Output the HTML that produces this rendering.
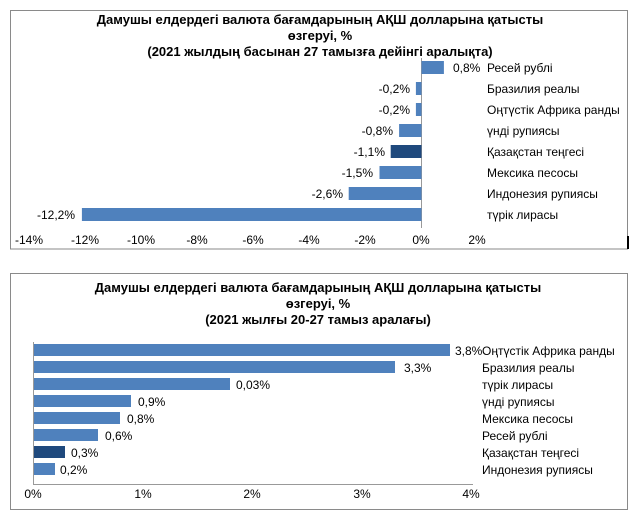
<!DOCTYPE html>
<html><head><meta charset="utf-8"><style>
html,body{margin:0;padding:0;background:#fff;}
svg{display:block;}
text{font-family:"Liberation Sans Narrow","Liberation Sans","DejaVu Sans",sans-serif;fill:#000;}
.t{font-weight:bold;font-size:13px;}
.l{font-size:12px;}
</style></head><body>
<svg width="640" height="518" viewBox="0 0 640 518" xmlns="http://www.w3.org/2000/svg">
<!-- Chart 1 -->
<rect x="10.5" y="10.5" width="617" height="238.5" fill="none" stroke="#8a8a8a" stroke-width="1"/>
<line x1="628" y1="236" x2="628" y2="249" stroke="#000" stroke-width="2"/>
<text class="t" x="320" y="24" text-anchor="middle">Дамушы елдердегі валюта бағамдарының АҚШ долларына қатысты</text>
<text class="t" x="320" y="40" text-anchor="middle">өзгеруі, %</text>
<text class="t" x="320" y="56" text-anchor="middle">(2021 жылдың басынан 27 тамызға дейінгі аралықта)</text>
<line x1="421.5" y1="58" x2="421.5" y2="228" stroke="#999" stroke-width="1"/>
<g fill="#4f81bd">
<rect x="421.5" y="61" width="22.4" height="13"/>
<rect x="415.9" y="82" width="5.6" height="13"/>
<rect x="415.9" y="103" width="5.6" height="13"/>
<rect x="399.1" y="124" width="22.4" height="13"/>
<rect x="390.7" y="145" width="30.8" height="13" fill="#1f497d"/>
<rect x="379.5" y="166" width="42" height="13"/>
<rect x="348.7" y="187" width="72.8" height="13"/>
<rect x="81.9" y="208" width="339.6" height="13"/>
</g>
<g class="l">
<text x="453" y="72">0,8%</text>
<text x="410" y="93" text-anchor="end">-0,2%</text>
<text x="410" y="114" text-anchor="end">-0,2%</text>
<text x="393" y="135" text-anchor="end">-0,8%</text>
<text x="385" y="156" text-anchor="end">-1,1%</text>
<text x="373" y="177" text-anchor="end">-1,5%</text>
<text x="343" y="198" text-anchor="end">-2,6%</text>
<text x="75" y="219" text-anchor="end">-12,2%</text>
<text x="487" y="72">Ресей рублі</text>
<text x="487" y="93">Бразилия реалы</text>
<text x="487" y="114">Оңтүстік Африка ранды</text>
<text x="487" y="135">үнді рупиясы</text>
<text x="487" y="156">Қазақстан теңгесі</text>
<text x="487" y="177">Мексика песосы</text>
<text x="487" y="198">Индонезия рупиясы</text>
<text x="487" y="219">түрік лирасы</text>
</g>
<g class="l" text-anchor="middle">
<text x="29" y="244">-14%</text><text x="85" y="244">-12%</text><text x="141" y="244">-10%</text>
<text x="197" y="244">-8%</text><text x="253" y="244">-6%</text><text x="309" y="244">-4%</text>
<text x="365" y="244">-2%</text><text x="421" y="244">0%</text><text x="477" y="244">2%</text>
</g>
<!-- Chart 2 -->
<rect x="10.5" y="273.5" width="617" height="236" fill="none" stroke="#8a8a8a" stroke-width="1"/>
<text class="t" x="318" y="292" text-anchor="middle">Дамушы елдердегі валюта бағамдарының АҚШ долларына қатысты</text>
<text class="t" x="318" y="308" text-anchor="middle">өзгеруі, %</text>
<text class="t" x="318" y="324" text-anchor="middle">(2021 жылғы 20-27 тамыз аралағы)</text>
<line x1="33.5" y1="342" x2="33.5" y2="484" stroke="#999"/>
<line x1="33" y1="484.5" x2="473" y2="484.5" stroke="#999"/>
<g fill="#4f81bd">
<rect x="34" y="344" width="416" height="12"/>
<rect x="34" y="361" width="361" height="12"/>
<rect x="34" y="378" width="196" height="12"/>
<rect x="34" y="395" width="97" height="12"/>
<rect x="34" y="412" width="86" height="12"/>
<rect x="34" y="429" width="64" height="12"/>
<rect x="34" y="446" width="31" height="12" fill="#1f497d"/>
<rect x="34" y="463" width="21" height="12"/>
</g>
<g class="l">
<text x="455" y="355">3,8%</text>
<text x="404" y="372">3,3%</text>
<text x="236" y="389">0,03%</text>
<text x="138" y="406">0,9%</text>
<text x="127" y="423">0,8%</text>
<text x="105" y="440">0,6%</text>
<text x="71" y="457">0,3%</text>
<text x="60" y="474">0,2%</text>
<text x="482" y="355">Оңтүстік Африка ранды</text>
<text x="482" y="372">Бразилия реалы</text>
<text x="482" y="389">түрік лирасы</text>
<text x="482" y="406">үнді рупиясы</text>
<text x="482" y="423">Мексика песосы</text>
<text x="482" y="440">Ресей рублі</text>
<text x="482" y="457">Қазақстан теңгесі</text>
<text x="482" y="474">Индонезия рупиясы</text>
</g>
<g class="l" text-anchor="middle">
<text x="33" y="498">0%</text><text x="143" y="498">1%</text><text x="252" y="498">2%</text>
<text x="362" y="498">3%</text><text x="471" y="498">4%</text>
</g>
</svg>
</body></html>
